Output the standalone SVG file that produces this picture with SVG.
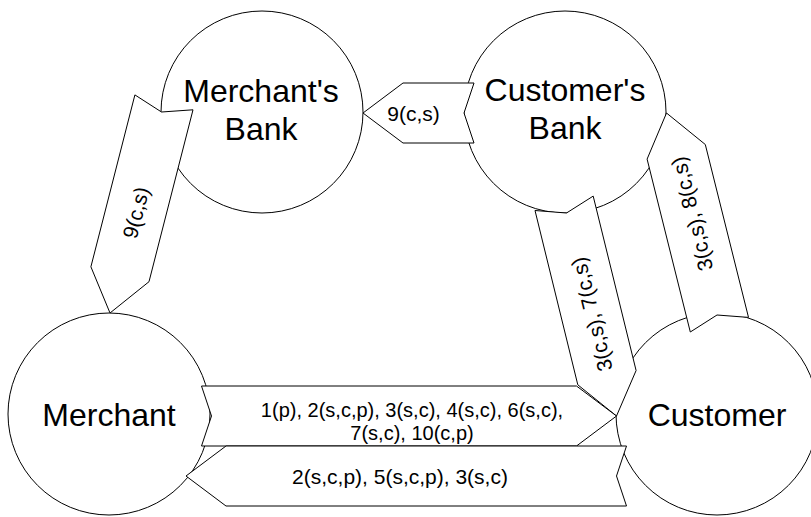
<svg xmlns="http://www.w3.org/2000/svg" width="811" height="517" viewBox="0 0 811 517">
<style>
.node{fill:#fff;stroke:#000;stroke-width:1}
.arrow{fill:#fff;stroke:#000;stroke-width:1;stroke-linejoin:miter}
.big{font-family:"Liberation Sans",Arial,sans-serif;font-size:32px;fill:#000;text-anchor:middle}
.lbl{font-family:"Liberation Sans",Arial,sans-serif;font-size:21px;fill:#000;text-anchor:middle}
.lbl2{font-family:"Liberation Sans",Arial,sans-serif;font-size:20px;fill:#000;text-anchor:middle}
</style>
<rect width="811" height="517" fill="#fff"/>
<g id="merchants-bank">
<circle class="node" cx="262" cy="112" r="101"/>
<text class="big" x="261" y="102">Merchant's</text>
<text class="big" x="261" y="140">Bank</text>
</g>
<g id="customers-bank">
<circle class="node" cx="565" cy="112" r="101"/>
<text class="big" x="565" y="101">Customer's</text>
<text class="big" x="565" y="139">Bank</text>
</g>
<g id="merchant">
<circle class="node" cx="109" cy="414" r="101"/>
<text class="big" x="109" y="426">Merchant</text>
</g>
<g id="customer">
<circle class="node" cx="717" cy="414" r="101"/>
<text class="big" x="717" y="426">Customer</text>
</g>
<g id="connectors">
<g id="mb-to-m">
<polygon class="arrow" points="193,109.8 161.5,112 134.9,94.9 90.9,266.8 110,313 149,281.7"/>
<text class="lbl" transform="translate(135.75,212.5) rotate(-75.63)" x="0" y="7.5">9(c,s)</text>
</g>
<g id="cb-to-mb">
<polygon class="arrow" points="474,83 464,113 474,143 403,143 363,113 403,83"/>
<text class="lbl" x="413.5" y="120.5">9(c,s)</text>
</g>
<g id="cb-to-c">
<polygon class="arrow" points="593.2,196.1 566.5,213 535,210.5 577.8,384.8 616.5,416 636.1,370.5"/>
<text class="lbl" transform="translate(591.5,314.5) rotate(-103.8)" x="0" y="7.5">3(c,s), 7(c,s)</text>
</g>
<g id="c-to-cb">
<polygon class="arrow" points="690.3,332 717,315 748.5,317.4 705.3,144.5 666.5,113 647.1,159.1"/>
<text class="lbl" transform="translate(691.75,214) rotate(-104.03)" x="0" y="7.5">3(c,s), 8(c,s)</text>
</g>
<g id="m-to-c">
<polygon class="arrow" points="201.5,386 211.5,416 201.5,446 576.5,446 616.5,416 576.5,386"/>
<text class="lbl2" x="412" y="417">1(p), 2(s,c,p), 3(s,c), 4(s,c), 6(s,c),</text>
<text class="lbl2" x="412" y="440">7(s,c), 10(c,p)</text>
</g>
<g id="c-to-m">
<polygon class="arrow" points="626.5,446 616.5,476 626.5,506 226,506 186,476 226,446"/>
<text class="lbl" x="400" y="484">2(s,c,p), 5(s,c,p), 3(s,c)</text>
</g>
</g>
</svg>
